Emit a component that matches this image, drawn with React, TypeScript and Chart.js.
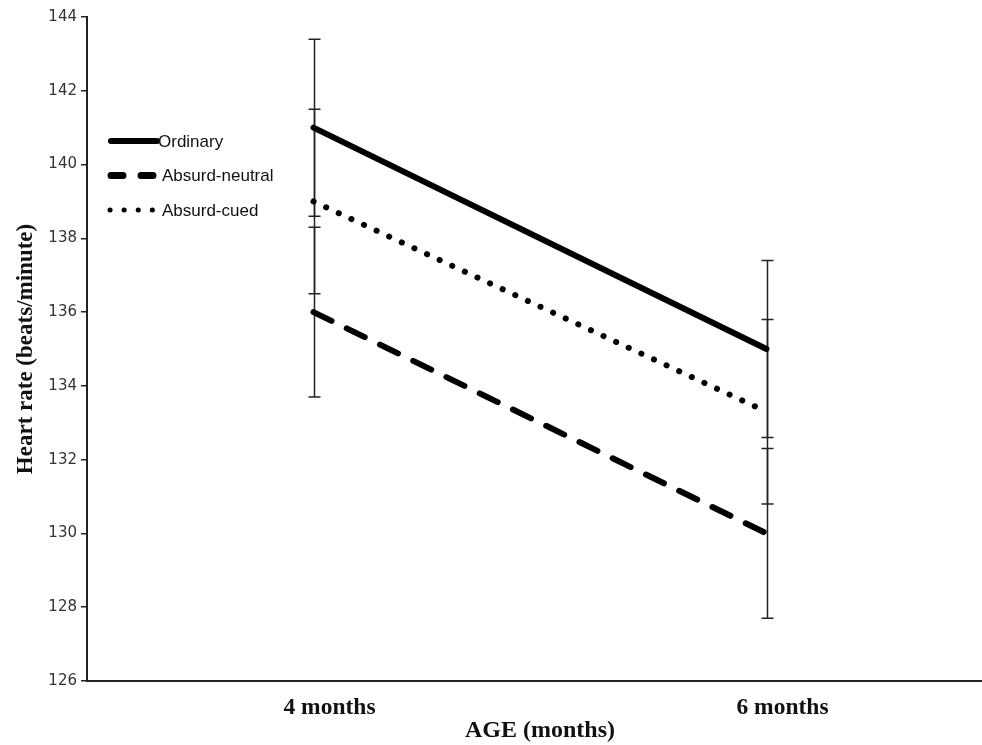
import React, { useEffect, useRef } from "react";
import { Chart, registerables } from "chart.js";

Chart.register(...registerables);

const categories = ["4 months", "6 months"];
const seriesNames = ["Ordinary", "Absurd-neutral", "Absurd-cued"];
const ordinary = [141.0, 135.0];
const absurdNeutral = [136.0, 130.0];
const absurdCued = [139.0, 133.3];
const ordinaryErr = [2.4, 2.4];
const absurdNeutralErr = [2.3, 2.3];
const absurdCuedErr = [2.5, 2.5];
const yTicks = [126, 128, 130, 132, 134, 136, 138, 140, 142, 144];
const yTitle = "Heart rate (beats/minute)";
const xTitle = "AGE (months)";

const widenXPlugin = {
  id: "widenX",
  afterLayout(chart: any) {
    const x = chart.scales.x;
    x.right = x.left + 906;
    x.width = 906;
    x.configure();
  },
};

const errorBarPlugin = {
  id: "errorBars",
  beforeDatasetsDraw(chart: any) {
    const ctx = chart.ctx;
    const y = chart.scales.y;
    ctx.save();
    ctx.strokeStyle = "#222";
    ctx.lineWidth = 1.5;
    chart.data.datasets.forEach((ds: any, i: number) => {
      const meta = chart.getDatasetMeta(i);
      meta.data.forEach((pt: any, j: number) => {
        const v = ds.data[j];
        const e = ds.errors[j];
        const top = y.getPixelForValue(v + e);
        const bot = y.getPixelForValue(v - e);
        const x = Math.round(pt.x) + 0.5;
        ctx.beginPath();
        ctx.moveTo(x, top);
        ctx.lineTo(x, bot);
        ctx.moveTo(x - 6, top);
        ctx.lineTo(x + 6, top);
        ctx.moveTo(x - 6, bot);
        ctx.lineTo(x + 6, bot);
        ctx.stroke();
      });
    });
    ctx.restore();
  },
};

const legendPlugin = {
  id: "customLegend",
  afterDraw(chart: any) {
    const ctx = chart.ctx;
    const left = chart.chartArea.left;
    const top = chart.chartArea.top;
    ctx.save();
    chart.data.datasets.forEach((ds: any, i: number) => {
      const yy = top + 124 + i * 34.5;
      const x0 = left + 22;
      const x1 = left + 70;
      ctx.beginPath();
      ctx.strokeStyle = "#000";
      if (ds.legendKind === "solid") {
        ctx.lineWidth = 6;
        ctx.lineCap = "round";
        ctx.setLineDash([]);
      } else if (ds.legendKind === "dash") {
        ctx.lineWidth = 7;
        ctx.lineCap = "round";
        ctx.setLineDash([12, 18]);
      } else {
        ctx.lineWidth = 5;
        ctx.lineCap = "round";
        ctx.setLineDash([0.1, 14]);
      }
      const start = ds.legendKind === "dots" ? x0 + 1 : x0 + 2;
      ctx.moveTo(start, yy);
      ctx.lineTo(x1, yy);
      ctx.stroke();
      ctx.setLineDash([]);
      ctx.fillStyle = "#111";
      ctx.font = "17px 'Liberation Sans', Arial, sans-serif";
      ctx.textBaseline = "middle";
      ctx.textAlign = "left";
      ctx.fillText(ds.label, ds.legendKind === "solid" ? x1 + 1 : x1 + 5, yy + 1);
    });
    ctx.restore();
  },
};

export default function App() {
  const ref = useRef<HTMLCanvasElement | null>(null);
  useEffect(() => {
    document.body.style.margin = "0";
    const canvas = ref.current;
    if (!canvas) return;
    const chart = new Chart(canvas, {
      type: "line",
      data: {
        labels: categories,
        datasets: [
          {
            label: seriesNames[0],
            data: ordinary,
            errors: ordinaryErr,
            legendKind: "solid",
            borderColor: "#000",
            borderWidth: 6,
            pointRadius: 0,
            borderCapStyle: "round",
          } as any,
          {
            label: seriesNames[1],
            data: absurdNeutral,
            errors: absurdNeutralErr,
            legendKind: "dash",
            borderColor: "#000",
            borderWidth: 6,
            pointRadius: 0,
            borderDash: [20, 17],
            borderCapStyle: "round",
          } as any,
          {
            label: seriesNames[2],
            data: absurdCued,
            errors: absurdCuedErr,
            legendKind: "dots",
            borderColor: "#000",
            borderWidth: 6,
            pointRadius: 0,
            borderDash: [0.1, 13.8],
            borderCapStyle: "round",
          } as any,
        ],
      },
      options: {
        animation: false,
        responsive: false,
        maintainAspectRatio: false,
        layout: { padding: { top: 17, right: 0, bottom: 0, left: 0 } },
        plugins: {
          legend: { display: false },
          tooltip: { enabled: false },
        },
        scales: {
          x: {
            type: "category",
            offset: true,
            grid: { display: false, offset: true },
            border: { display: true, color: "#222", width: 2 },
            ticks: {
              color: "#111",
              padding: 5,
              labelOffset: 16,
              font: { family: "'Liberation Serif', 'Times New Roman', serif", size: 23.5, weight: "bold" },
            },
            title: {
              display: true,
              text: xTitle,
              color: "#111",
              padding: { top: 0, bottom: 0 },
              font: { family: "'Liberation Serif', 'Times New Roman', serif", size: 24, weight: "bold" },
            },
            afterFit: (s: any) => {
              s.height = 64;
            },
          },
          y: {
            min: 126,
            max: 144,
            afterBuildTicks: (s: any) => {
              s.ticks = yTicks.map((v) => ({ value: v }));
            },
            grid: {
              drawOnChartArea: false,
              drawTicks: true,
              tickLength: 6,
              color: "#222",
              tickColor: "#222",
              lineWidth: 1.5,
            },
            border: { display: true, color: "#222", width: 2 },
            ticks: {
              color: "#333",
              padding: 4,
              font: { family: "'DejaVu Sans', Verdana, sans-serif", size: 15 },
            },
            title: {
              display: true,
              text: yTitle,
              color: "#111",
              padding: { top: 12, bottom: 0 },
              font: { family: "'Liberation Serif', 'Times New Roman', serif", size: 23, weight: "bold" },
            },
            afterFit: (s: any) => {
              s.width = 87;
            },
          },
        },
      },
      plugins: [widenXPlugin, errorBarPlugin, legendPlugin],
    } as any);
    return () => chart.destroy();
  }, []);
  return (
    <div style={{ width: 982, height: 745, position: "relative", background: "#fff" }}>
      <canvas ref={ref} width={982} height={745} style={{ display: "block" }} />
    </div>
  );
}
